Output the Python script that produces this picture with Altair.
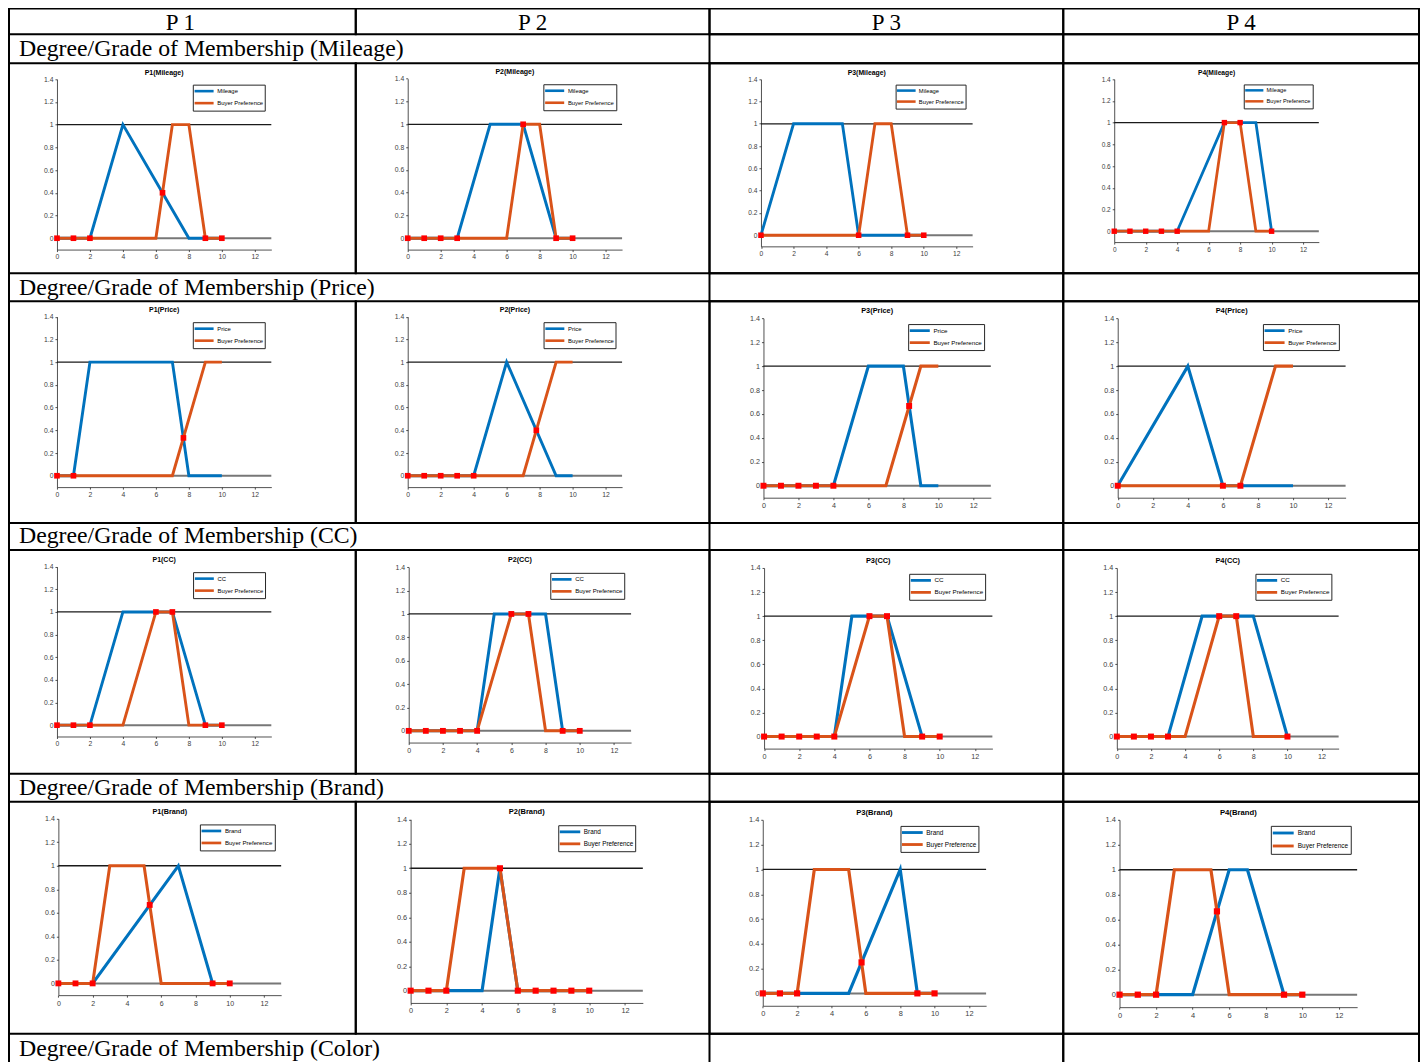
import altair as alt
import pandas as pd

# ---------------- texts ----------------
header_labels = ["P 1", "P 2", "P 3", "P 4"]
products = ["P1", "P2", "P3", "P4"]
attributes = ["Mileage", "Price", "CC", "Brand"]
row_labels = ["Degree/Grade of Membership (Mileage)",
              "Degree/Grade of Membership (Price)",
              "Degree/Grade of Membership (CC)",
              "Degree/Grade of Membership (Brand)",
              "Degree/Grade of Membership (Color)"]
pref_name = "Buyer Preference"

# ---------------- data (membership functions) ----------------
mileage_x = {"P1": [0, 2, 4, 8, 10], "P2": [0, 3, 5, 7, 9, 10],
             "P3": [0, 2, 5, 6, 10], "P4": [0, 4, 7, 9, 10]}
mileage_y = {"P1": [0, 0, 1, 0, 0], "P2": [0, 0, 1, 1, 0, 0],
             "P3": [0, 1, 1, 0, 0], "P4": [0, 0, 1, 1, 0]}
mileage_pref_x = [0, 6, 7, 8, 9, 10]
mileage_pref_y = [0, 0, 1, 1, 0, 0]
mileage_pts_x = {"P1": [0, 1, 2, 6.4, 9, 10], "P2": [0, 1, 2, 3, 7, 9, 10],
                 "P3": [0, 6, 9, 10], "P4": [0, 1, 2, 3, 4, 7, 8, 10]}
mileage_pts_y = {"P1": [0, 0, 0, 0.4, 0, 0], "P2": [0, 0, 0, 0, 1, 0, 0],
                 "P3": [0, 0, 0, 0], "P4": [0, 0, 0, 0, 0, 1, 1, 0]}

price_x = {"P1": [0, 1, 2, 7, 8, 10], "P2": [0, 4, 6, 9, 10],
           "P3": [0, 4, 6, 8, 9, 10], "P4": [0, 4, 6, 10]}
price_y = {"P1": [0, 0, 1, 1, 0, 0], "P2": [0, 0, 1, 0, 0],
           "P3": [0, 0, 1, 1, 0, 0], "P4": [0, 1, 0, 0]}
price_pref_x = [0, 7, 9, 10]
price_pref_y = [0, 0, 1, 1]
price_pts_x = {"P1": [0, 1, 7.67], "P2": [0, 1, 2, 3, 4, 7.8],
               "P3": [0, 1, 2, 3, 4, 8.33], "P4": [0, 6, 7]}
price_pts_y = {"P1": [0, 0, 0.333], "P2": [0, 0, 0, 0, 0, 0.4],
               "P3": [0, 0, 0, 0, 0, 0.667], "P4": [0, 0, 0]}

cc_x = {"P1": [0, 2, 4, 7, 9, 10], "P2": [0, 4, 5, 8, 9, 10],
        "P3": [0, 4, 5, 7, 9, 10], "P4": [0, 3, 5, 8, 10]}
cc_y = {"P1": [0, 0, 1, 1, 0, 0], "P2": [0, 0, 1, 1, 0, 0],
        "P3": [0, 0, 1, 1, 0, 0], "P4": [0, 0, 1, 1, 0]}
cc_pref_x = [0, 4, 6, 7, 8, 10]
cc_pref_y = [0, 0, 1, 1, 0, 0]
cc_pts_x = {"P1": [0, 1, 2, 6, 7, 9, 10], "P2": [0, 1, 2, 3, 4, 6, 7, 9, 10],
            "P3": [0, 1, 2, 3, 4, 6, 7, 9, 10], "P4": [0, 1, 2, 3, 6, 7, 10]}
cc_pts_y = {"P1": [0, 0, 0, 1, 1, 0, 0], "P2": [0, 0, 0, 0, 0, 1, 1, 0, 0],
            "P3": [0, 0, 0, 0, 0, 1, 1, 0, 0], "P4": [0, 0, 0, 0, 1, 1, 0]}

brand_x = {"P1": [0, 2, 7, 9, 10], "P2": [0, 4, 5, 6, 10],
           "P3": [0, 5, 8, 9, 10], "P4": [0, 4, 6, 7, 9, 10]}
brand_y = {"P1": [0, 0, 1, 0, 0], "P2": [0, 0, 1, 0, 0],
           "P3": [0, 0, 1, 0, 0], "P4": [0, 0, 1, 1, 0, 0]}
brand_pref_x = [0, 2, 3, 5, 6, 10]
brand_pref_y = [0, 0, 1, 1, 0, 0]
brand_pts_x = {"P1": [0, 1, 2, 5.33, 9, 10], "P2": [0, 1, 2, 5, 6, 7, 8, 9, 10],
               "P3": [0, 1, 2, 5.75, 9, 10], "P4": [0, 1, 2, 5.33, 9, 10]}
brand_pts_y = {"P1": [0, 0, 0, 0.667, 0, 0], "P2": [0, 0, 0, 1, 0, 0, 0, 0, 0],
               "P3": [0, 0, 0, 0.25, 0, 0], "P4": [0, 0, 0, 0.667, 0, 0]}

ref_levels = [0, 1]          # horizontal reference lines
ref_span = [0, 13]
x_ticks = [0, 2, 4, 6, 8, 10, 12]
y_ticks = [0, 0.2, 0.4, 0.6, 0.8, 1.0, 1.2, 1.4]
x_domain = [0, 13]
y_domain = [-0.1, 1.4]

curves = {"Mileage": (mileage_x, mileage_y, mileage_pref_x, mileage_pref_y, mileage_pts_x, mileage_pts_y),
          "Price": (price_x, price_y, price_pref_x, price_pref_y, price_pts_x, price_pts_y),
          "CC": (cc_x, cc_y, cc_pref_x, cc_pref_y, cc_pts_x, cc_pts_y),
          "Brand": (brand_x, brand_y, brand_pref_x, brand_pref_y, brand_pts_x, brand_pts_y)}

# ---------------- layout (page pixels) ----------------
ORIGIN = 8
col_edges = [8, 355, 709, 1063, 1419]
row_edges = [8, 34, 63, 273, 301, 523, 550, 774, 802, 1034, 1074]
label_baselines = [21.7, 21.7, 20.5, 21.7, 22.5]   # text baseline below the label row's top edge
# axes boxes of each small plot: (px of x=0, px of x=12, px of y=1, px of y=0)
panel_boxes = {
    "Mileage": [(56, 254, 124.3, 238), (407, 605, 124, 238), (760.5, 956, 123.5, 235), (1114, 1303, 122.3, 231)],
    "Price": [(56, 254, 362, 475.7), (407, 605, 362, 475.7), (763, 973, 366, 485.7), (1117.5, 1328, 366, 485.7)],
    "CC": [(56, 254, 612, 725.3), (408, 613.4, 614, 731), (763.6, 974.5, 616.2, 736.7), (1116.6, 1321.5, 616.2, 736.7)],
    "Brand": [(57.4, 263.2, 866, 983.7), (409.9, 624.4, 868.5, 991), (762.3, 968.6, 869.7, 993.7), (1119.3, 1338.8, 870, 995)],
}

SERIF = "Liberation Serif"
SANS = "Liberation Sans"
BLUE = "#0072bd"
ORANGE = "#d95319"
RED = "#ff0000"
HEADER_FONT = 23
LABEL_FONT = 23.8
# legend line symbol: a long horizontal stroke (unit square coordinates)
LEGEND_LINE = "M-1.45,0H4.4"
NO_BORDER = alt.ViewBackground(stroke="transparent")


def text_cell(label, w, h, x, y, align, size, border=True, left_rule=False):
    df = pd.DataFrame({"label": [label]})
    txt = alt.Chart(df).mark_text(
        font=SERIF, fontSize=size, align=align, baseline="middle", color="black"
    ).encode(x=alt.value(x), y=alt.value(y), text="label:N")
    if left_rule:
        edge = alt.Chart(df).mark_rule(color="black", strokeWidth=2).encode(
            x=alt.value(0), y=alt.value(0), y2=alt.value(h))
        ch = alt.layer(edge, txt)
    else:
        ch = txt
    ch = ch.properties(width=w, height=h)
    if not border:
        ch = ch.properties(view=NO_BORDER)
    return ch


def plot_cell(attr, prod, r, c):
    x0 = col_edges[c]
    y0 = row_edges[2 + 2 * r]
    w = col_edges[c + 1] - x0
    h = row_edges[3 + 2 * r] - y0
    xa, xb, ya1, ya0 = panel_boxes[attr][c]
    ux = (xb - xa) / 12.0
    uy = ya0 - ya1
    s = uy / 113.6
    xr = [xa - x0, xa - x0 + 13 * ux]
    yr = [ya0 + 0.1 * uy - y0, ya0 - 1.4 * uy - y0]

    xs = alt.Scale(domain=x_domain, range=xr, nice=False, zero=False)
    ys = alt.Scale(domain=y_domain, range=yr, nice=False, zero=False)
    axis_style = dict(title=None, grid=False, domainColor="#262626", domainWidth=0.8,
                      tickColor="#262626", tickWidth=0.8, tickSize=2, labelFont=SANS,
                      labelFontSize=6.8 * s, labelColor="#404040", labelPadding=2,
                      labelOverlap=False, labelFlush=False, format="~g")
    xaxis = alt.Axis(values=x_ticks, orient="bottom", offset=yr[0] - h, **axis_style)
    yaxis = alt.Axis(values=y_ticks, orient="left", offset=-xr[0], **axis_style)
    X = lambda f: alt.X(f, type="quantitative", scale=xs, axis=xaxis)
    Y = lambda f: alt.Y(f, type="quantitative", scale=ys, axis=yaxis)

    cx, cy, px, py, mx, my = curves[attr]
    curve_df = pd.DataFrame({"x": cx[prod], "y": cy[prod], "series": attr})
    pref_df = pd.DataFrame({"x": px, "y": py, "series": pref_name})
    pts_df = pd.DataFrame({"x": mx[prod], "y": my[prod]})
    ref_df = pd.DataFrame({"a": [ref_span[0]] * 2, "b": [ref_span[1]] * 2, "v": ref_levels})
    title_df = pd.DataFrame({"t": [f"{prod}({attr})"], "x": [sum(x_domain) / 2], "y": [y_domain[1]]})

    leg_w = 73 * s
    legend = alt.Legend(title=None, orient="none",
                        legendX=xr[1] - 5.5 * s - leg_w, legendY=yr[1] + 5.5 * s,
                        direction="vertical", symbolType=LEGEND_LINE, symbolSize=(6.5 * s) ** 2,
                        symbolStrokeWidth=2.6 * s, labelFont=SANS, labelFontSize=5.9 * s,
                        labelColor="black", strokeColor="#262626", fillColor="white",
                        padding=1.5 * s, rowPadding=0, labelOffset=13 * s, labelLimit=0)
    color = alt.Color("series:N", scale=alt.Scale(domain=[attr, pref_name], range=[BLUE, ORANGE]),
                      legend=legend)

    rule0 = alt.Chart(ref_df[ref_df.v == ref_levels[0]]).mark_rule(color="#777777", strokeWidth=2).encode(
        x=X("a"), x2="b", y=Y("v"))
    rule1 = alt.Chart(ref_df[ref_df.v == ref_levels[1]]).mark_rule(color="#1a1a1a", strokeWidth=1.3).encode(
        x=X("a"), x2="b", y=Y("v"))
    blue = alt.Chart(curve_df).mark_line(strokeWidth=2.9 * s).encode(x=X("x"), y=Y("y"), color=color)
    orange = alt.Chart(pref_df).mark_line(strokeWidth=2.9 * s).encode(x=X("x"), y=Y("y"), color=color)
    pts = alt.Chart(pts_df).mark_square(size=32 * s * s, color=RED, opacity=1).encode(x=X("x"), y=Y("y"))
    ttl = alt.Chart(title_df).mark_text(font=SANS, fontSize=7 * s, fontWeight="bold", dy=-6.6 * s,
                                        baseline="middle", color="black").encode(
        x=X("x"), y=Y("y"), text="t:N")
    return alt.layer(rule0, rule1, blue, orange, pts, ttl).properties(width=w, height=h)


col_w = [col_edges[c + 1] - col_edges[c] for c in range(4)]
cells = []
# header row
hdr_h = row_edges[1] - row_edges[0]
for c in range(4):
    center = ((col_edges[c] if c > 0 else 4) + col_edges[c + 1]) / 2
    cells.append(text_cell(header_labels[c], col_w[c], hdr_h, center - col_edges[c],
                           hdr_h - 4.7 - 0.3 * HEADER_FONT, "center", HEADER_FONT))

for r in range(5):
    h = row_edges[2 + 2 * r] - row_edges[1 + 2 * r]
    # the label spans the first two columns: no divider between them
    cells.append(text_cell(row_labels[r], col_w[0], h, 18 - ORIGIN, label_baselines[r] - 0.3 * LABEL_FONT,
                           "left", LABEL_FONT, border=False, left_rule=True))
    cells.append(text_cell("", col_w[1], h, 5, h / 2, "left", LABEL_FONT, border=False))
    cells.append(text_cell("", col_w[2], h, 5, h / 2, "left", LABEL_FONT))
    cells.append(text_cell("", col_w[3], h, 5, h / 2, "left", LABEL_FONT))
    if r < 4:
        for c in range(4):
            cells.append(plot_cell(attributes[r], products[c], r, c))

chart = alt.concat(*cells, columns=4, spacing=0, bounds="flush").resolve_scale(
    color="independent"
).properties(
    padding={"left": -1, "top": -1, "right": 0, "bottom": 0}
).configure_view(stroke="black", strokeWidth=2)

chart.save("out.html", embed_options={"renderer": "svg", "actions": False})
